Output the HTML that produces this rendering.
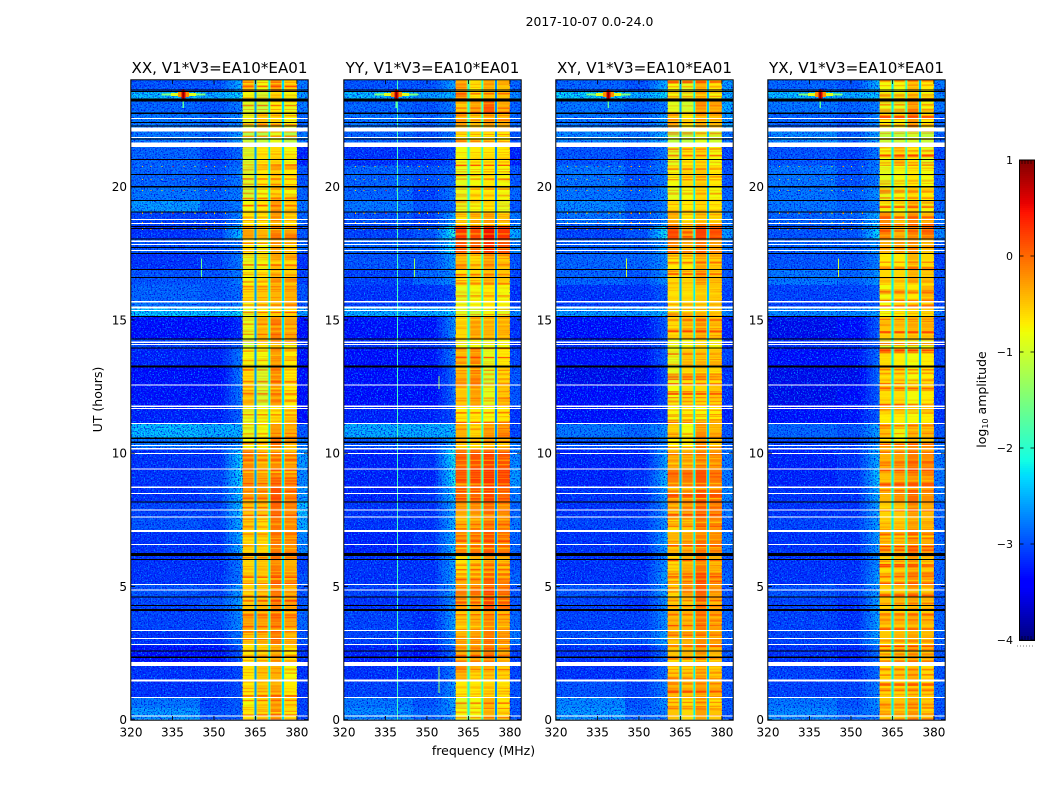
<!DOCTYPE html>
<html lang="en">
<head>
<meta charset="utf-8">
<title>2017-10-07 0.0-24.0 dynamic spectra</title>
<style>
html,body{margin:0;padding:0;background:#fff;}
svg{display:block;}
text{font-family:"DejaVu Sans","Liberation Sans",sans-serif;fill:#000;}
</style>
</head>
<body>
<svg id="chart" xmlns="http://www.w3.org/2000/svg" width="1050" height="800" viewBox="0 0 1050 800">
  <defs>
    <filter id="grain-light" x="0" y="0" width="1" height="1" color-interpolation-filters="sRGB">
      <feTurbulence type="fractalNoise" baseFrequency="0.7" numOctaves="2" seed="3"/>
      <feColorMatrix type="matrix" values="0 0 0 0 0  0 0 0 0 .58  0 0 0 0 1  3.6 0 0 0 -1.75"/>
    </filter>
    <filter id="grain-dark" x="0" y="0" width="1" height="1" color-interpolation-filters="sRGB">
      <feTurbulence type="fractalNoise" baseFrequency="0.7" numOctaves="2" seed="8"/>
      <feColorMatrix type="matrix" values="0 0 0 0 0  0 0 0 0 0  0 0 0 0 .88  3.6 0 0 0 -1.75"/>
    </filter>
    <filter id="stripe-red" x="0" y="0" width="1" height="1" color-interpolation-filters="sRGB">
      <feTurbulence type="fractalNoise" baseFrequency="0.004 0.42" numOctaves="2" seed="5"/>
      <feColorMatrix type="matrix" values="0 0 0 0 1  0 0 0 0 .22  0 0 0 0 0  3 0 0 0 -1.4"/>
    </filter>
    <filter id="stripe-yellow" x="0" y="0" width="1" height="1" color-interpolation-filters="sRGB">
      <feTurbulence type="fractalNoise" baseFrequency="0.004 0.42" numOctaves="2" seed="11"/>
      <feColorMatrix type="matrix" values="0 0 0 0 1  0 0 0 0 .95  0 0 0 0 0  2.5 0 0 0 -1.25"/>
    </filter>
  </defs>
  <rect x="0" y="0" width="1050" height="800" fill="#fff"/>
  <text x="589.5" y="26" font-size="12.4" text-anchor="middle">2017-10-07 0.0-24.0</text>
  <text transform="translate(102,399.5) rotate(-90)" font-size="12.5" text-anchor="middle">UT (hours)</text>
  <text x="483.5" y="755" font-size="12.5" text-anchor="middle">frequency (MHz)</text>
  <text transform="translate(986,399.5) rotate(-90)" font-size="12.5" text-anchor="middle">log<tspan font-size="8" dy="2">10</tspan><tspan dy="-2"> amplitude</tspan></text>
  <g id="panels"></g>
  <g id="colorbar"></g>
</svg>
<script>
// ---- Data ----
const panelTitles = ["XX, V1*V3=EA10*EA01", "YY, V1*V3=EA10*EA01", "XY, V1*V3=EA10*EA01", "YX, V1*V3=EA10*EA01"];
const xTickLabels = [320, 335, 350, 365, 380];
const yTickLabels = [0, 5, 10, 15, 20];
const colorbarTicks = [1, 0, -1, -2, -3, -4];

// Frequency (MHz) column edges of the value rows
const freqEdges = [320, 345, 353, 360.4, 365, 370, 375, 380, 384];
// Narrow spectral-window gaps (MHz)
const gapFreqs = [365, 370, 375];
// UT (hours) row edges, top to bottom
const utEdges = [24, 23.57, 23.27, 22.78, 22.22, 21.66, 20.80, 19.97, 19.48, 19.03, 18.55, 18.06, 17.50, 16.90, 16.30, 15.70, 15.47, 15.14, 14.31, 13.97, 13.26, 12.55, 11.76, 11.12, 10.56, 10.18, 9.36, 8.72, 8.16, 7.60, 7.07, 6.21, 5.53, 5.08, 4.59, 4.11, 3.36, 2.79, 2.16, 1.48, 0.84, 0.44, 0];

// log10 amplitude: one row per UT block, one value per frequency column
const xxValues = [
[-2.8,-2.8,-2.4,-0.4,-0.8,-0.2,-0.5,-2.6],[-2.2,-2.3,-2.2,-0.8,-1.0,-0.6,-0.8,-2.4],[-2.7,-2.8,-2.7,-1.0,-1.1,-0.7,-0.9,-2.6],[-2.6,-2.7,-2.6,-0.9,-0.5,-0.6,-0.8,-2.7],
[-2.6,-2.7,-2.5,-1.2,-1.2,-0.9,-1.2,-2.6],[-2.7,-2.9,-2.8,-1.0,-0.7,-0.6,-0.8,-3.1],[-2.7,-2.8,-2.7,-1.0,-0.7,-0.5,-0.7,-2.8],[-2.6,-2.7,-2.7,-1.0,-0.8,-0.6,-0.8,-2.7],
[-2.4,-2.7,-2.7,-0.8,-0.7,-0.3,-0.6,-2.6],[-2.9,-2.9,-2.6,-0.7,-0.7,-0.3,-0.6,-2.7],[-3.0,-2.9,-2.3,-0.3,-0.4,-0.1,-0.2,-2.8],[-2.8,-2.8,-2.7,-0.7,-0.8,-0.4,-0.6,-2.7],
[-3.0,-2.9,-2.7,-0.9,-0.8,-0.5,-0.6,-3.0],[-2.8,-2.8,-2.7,-0.8,-0.7,-0.4,-0.5,-2.9],[-2.7,-2.8,-2.8,-0.6,-0.5,-0.4,-0.4,-2.8],[-2.6,-2.7,-2.7,-0.8,-0.6,-0.5,-0.4,-2.8],
[-2.15,-2.2,-2.2,-0.9,-0.7,-0.6,-0.6,-2.4],[-3.3,-3.3,-3.2,-0.9,-0.4,-0.1,-0.3,-3.3],[-2.9,-3.0,-2.9,-1.1,-0.7,-0.5,-0.8,-3.0],[-3.1,-3.1,-2.7,-0.8,-0.8,-0.3,-0.7,-3.2],
[-3.3,-3.3,-2.7,-0.6,-1.0,-0.2,-0.7,-3.3],[-3.2,-3.2,-2.7,-0.5,-1.0,-0.3,-0.7,-3.3],[-3.1,-3.1,-2.8,-0.9,-0.8,-0.7,-0.6,-3.3],[-2.2,-2.3,-2.4,-0.9,-0.8,-0.3,-0.4,-2.8],
[-2.6,-2.7,-2.6,-0.8,-0.7,-0.1,-0.5,-2.6],[-3.0,-3.0,-2.2,-0.2,-0.4,-0.2,-0.3,-2.4],[-3.0,-2.9,-2.2,-0.2,-0.3,0.0,-0.1,-2.5],[-3.0,-2.9,-2.3,-0.3,-0.3,0.1,-0.2,-2.4],
[-2.9,-2.9,-2.3,-0.5,-0.5,0.0,-0.2,-2.2],[-2.8,-2.9,-2.4,-0.5,-0.6,-0.1,-0.2,-2.3],[-3.0,-3.0,-2.4,-0.6,-0.6,-0.1,-0.2,-2.5],[-3.0,-3.0,-2.7,-0.6,-0.5,-0.1,-0.3,-2.9],
[-3.0,-3.0,-2.7,-0.5,-0.5,0.0,-0.2,-2.8],[-2.8,-2.9,-2.5,-0.6,-0.5,-0.1,-0.4,-2.8],[-2.9,-2.8,-2.5,-0.5,-0.4,-0.1,-0.3,-2.8],[-2.9,-2.9,-2.6,-0.3,-0.3,-0.1,-0.3,-2.7],
[-3.0,-3.0,-2.7,-0.5,-0.4,-0.1,-0.4,-2.8],[-3.2,-3.2,-2.9,-0.7,-0.6,-0.4,-0.7,-3.0],[-3.0,-3.0,-3.0,-0.7,-0.5,-0.4,-0.8,-3.0],[-3.0,-3.0,-3.0,-0.7,-0.5,-0.3,-0.7,-3.0],
[-2.6,-2.9,-2.9,-0.8,-0.6,-0.3,-0.6,-2.9],[-2.4,-2.8,-2.9,-0.7,-0.5,-0.2,-0.6,-2.9]];
const yyValues = [
[-2.8,-2.8,-2.5,-0.3,-0.7,-0.4,-0.5,-2.7],[-2.2,-2.4,-2.4,-0.2,-0.7,-0.5,-0.5,-2.5],[-2.7,-2.8,-2.7,-0.5,-0.3,0.1,-0.4,-2.7],[-2.6,-2.7,-2.7,-0.3,-0.5,-0.3,-0.4,-2.7],
[-2.7,-2.8,-2.7,-0.7,-0.7,-0.7,-0.7,-2.8],[-3.0,-3.0,-3.0,-0.8,-0.7,-0.7,-0.7,-3.1],[-2.7,-2.8,-2.8,-0.9,-0.8,-0.7,-0.8,-2.8],[-2.7,-2.9,-2.7,-0.9,-0.7,-0.7,-0.8,-2.7],
[-2.6,-2.8,-2.8,-0.9,-0.8,-0.7,-0.9,-2.8],[-2.8,-2.9,-2.5,-0.7,-0.5,-0.4,-0.6,-2.6],[-2.9,-2.8,-2.0,0.3,0.2,0.5,0.3,-2.3],[-2.7,-2.7,-2.2,0.1,0.0,0.3,0.1,-2.5],
[-2.8,-2.8,-2.5,-0.4,-0.6,-0.3,-0.5,-2.8],[-2.9,-2.7,-2.6,-0.7,-0.6,-0.4,-0.5,-2.9],[-3.0,-3.0,-3.0,-0.9,-0.8,-0.7,-0.8,-3.0],[-2.9,-2.9,-2.9,-0.9,-0.8,-0.7,-0.8,-2.9],
[-2.3,-2.3,-2.3,-0.9,-1.0,-0.8,-0.9,-2.5],[-3.2,-3.2,-2.6,-0.6,-0.3,-0.4,-0.4,-3.0],[-3.0,-3.0,-2.9,-0.9,-0.8,-0.9,-0.8,-3.0],[-3.3,-3.2,-2.7,-0.4,-0.2,-0.9,-0.7,-2.9],
[-3.3,-3.3,-2.8,-0.4,-0.2,-1.0,-0.6,-2.8],[-3.3,-3.3,-2.8,-0.5,-0.3,-0.9,-0.5,-2.8],[-3.1,-3.1,-3.0,-0.7,-0.7,-0.8,-0.7,-3.0],[-2.3,-2.3,-2.4,-0.4,-0.6,-0.3,-0.2,-2.9],
[-2.8,-2.8,-2.5,-0.5,-0.6,-0.4,-0.5,-2.6],[-3.1,-3.0,-2.1,0.0,0.1,0.2,0.1,-2.5],[-3.1,-3.1,-2.1,0.1,0.2,0.3,0.2,-2.4],[-3.1,-3.0,-2.3,0.0,0.0,0.2,0.0,-2.6],
[-3.0,-3.0,-2.5,-0.3,-0.2,0.0,-0.2,-2.7],[-3.0,-3.0,-2.4,-0.4,-0.3,-0.1,-0.2,-2.6],[-3.1,-3.0,-2.4,-0.2,-0.1,0.1,-0.1,-2.7],[-3.0,-3.0,-2.5,-0.6,-0.4,-0.2,-0.4,-2.8],
[-3.0,-3.0,-2.5,-0.4,-0.3,0.0,-0.2,-2.7],[-2.9,-2.9,-2.5,-0.1,0.0,0.2,0.0,-2.8],[-3.0,-3.0,-2.6,-0.2,-0.2,0.2,0.0,-2.8],[-2.9,-3.0,-2.5,-0.5,-0.4,-0.2,-0.4,-2.7],
[-2.9,-3.0,-2.6,-0.4,-0.3,-0.1,-0.3,-2.6],[-3.1,-3.2,-2.8,-0.4,-0.3,-0.1,-0.4,-2.9],[-3.0,-3.0,-2.7,-0.4,-0.6,-0.5,-0.6,-2.9],[-2.9,-2.9,-2.6,-0.7,-0.7,-0.6,-0.7,-2.8],
[-2.6,-2.8,-2.5,-0.9,-0.8,-0.4,-0.7,-2.8],[-2.5,-2.7,-2.6,-0.8,-0.8,-0.4,-0.6,-2.8]];
const xyValues = [
[-2.7,-2.8,-2.4,-0.8,-0.9,-0.4,-0.7,-2.4],[-2.1,-2.3,-2.2,-0.8,-0.9,-0.5,-0.8,-2.3],[-2.6,-2.7,-2.7,-0.9,-1.0,-0.2,-0.3,-2.3],[-2.6,-2.7,-2.5,-0.3,-0.7,-0.3,-0.4,-2.4],
[-2.5,-2.6,-2.4,-1.1,-1.1,-0.9,-1.0,-2.6],[-2.8,-2.9,-2.7,-0.9,-0.7,-0.6,-0.8,-2.9],[-2.6,-2.8,-2.7,-0.8,-0.6,-0.5,-0.7,-2.8],[-2.6,-2.7,-2.6,-0.9,-0.8,-0.6,-0.8,-2.7],
[-2.5,-2.7,-2.7,-0.6,-0.7,-0.6,-0.7,-2.6],[-2.6,-2.8,-2.6,-0.4,-0.7,-0.5,-0.6,-2.6],[-2.9,-2.8,-2.1,0.1,-0.3,0.2,0.1,-2.4],[-2.7,-2.7,-2.5,-0.2,-0.4,-0.1,-0.3,-2.6],
[-2.7,-2.7,-2.6,-0.7,-0.7,-0.3,-0.5,-2.8],[-2.7,-2.8,-2.6,-0.6,-0.6,-0.3,-0.5,-2.8],[-3.0,-3.0,-2.9,-0.6,-0.6,-0.5,-0.5,-2.9],[-2.9,-2.9,-2.9,-0.7,-0.6,-0.6,-0.5,-2.9],
[-2.4,-2.4,-2.4,-0.8,-0.7,-0.6,-0.6,-2.5],[-3.3,-3.2,-2.9,-0.6,-0.4,-0.2,-0.4,-3.1],[-3.0,-3.0,-2.9,-0.9,-0.8,-0.6,-0.8,-3.0],[-3.2,-3.2,-2.9,-0.9,-0.5,-0.5,-0.5,-2.9],
[-3.4,-3.4,-3.0,-0.9,-0.6,-0.5,-0.6,-3.0],[-3.3,-3.3,-3.0,-0.8,-0.6,-0.6,-0.5,-3.0],[-3.2,-3.2,-3.1,-0.8,-0.7,-0.8,-0.7,-3.1],[-2.6,-2.7,-2.6,-0.5,-0.8,-0.2,-0.4,-2.8],
[-2.8,-2.8,-2.7,-0.7,-0.7,-0.2,-0.5,-2.7],[-3.1,-3.1,-2.5,-0.3,-0.3,-0.1,-0.2,-2.6],[-3.1,-3.0,-2.4,-0.1,-0.1,0.1,-0.1,-2.6],[-3.0,-3.0,-2.5,-0.2,-0.2,0.1,0.0,-2.5],
[-3.0,-3.0,-2.6,-0.5,-0.3,0.0,-0.1,-2.6],[-2.9,-2.9,-2.6,-0.6,-0.5,-0.1,-0.2,-2.7],[-3.0,-3.0,-2.5,-0.4,-0.3,-0.1,-0.2,-2.6],[-3.0,-3.0,-2.6,-0.6,-0.4,-0.1,-0.4,-2.8],
[-3.0,-3.0,-2.5,-0.5,-0.3,0.1,-0.2,-2.7],[-2.8,-2.9,-2.5,-0.6,-0.3,0.0,-0.3,-2.8],[-2.9,-3.0,-2.6,-0.4,-0.4,0.0,-0.3,-2.8],[-2.9,-2.9,-2.6,-0.4,-0.4,-0.1,-0.3,-2.7],
[-2.8,-2.8,-2.5,-0.5,-0.4,-0.2,-0.3,-2.7],[-3.0,-3.1,-2.8,-0.5,-0.4,-0.2,-0.4,-2.8],[-3.0,-3.0,-2.8,-0.5,-0.5,-0.3,-0.5,-2.8],[-2.8,-2.9,-2.7,-0.4,-0.5,-0.3,-0.4,-2.8],
[-2.5,-2.8,-2.6,-0.5,-0.6,-0.3,-0.6,-2.8],[-2.4,-2.7,-2.7,-0.5,-0.6,-0.3,-0.5,-2.8]];
const yxValues = [
[-2.7,-2.8,-2.4,-0.8,-0.8,-0.4,-0.7,-2.6],[-2.2,-2.3,-2.3,-0.8,-0.8,-0.6,-0.8,-2.5],[-2.6,-2.7,-2.7,-0.9,-0.9,-0.3,-0.8,-2.6],[-2.7,-2.8,-2.6,-0.7,-0.7,-0.2,-0.7,-2.7],
[-2.5,-2.7,-2.5,-1.1,-1.1,-1.0,-1.1,-2.7],[-2.8,-2.9,-2.7,-0.8,-0.5,-0.7,-0.9,-2.9],[-2.6,-2.8,-2.7,-0.9,-0.8,-0.7,-0.8,-2.8],[-2.6,-2.7,-2.6,-0.9,-0.8,-0.6,-0.7,-2.7],
[-2.6,-2.7,-2.7,-0.8,-0.8,-0.5,-0.8,-2.7],[-2.7,-2.7,-2.4,-0.2,-0.5,-0.2,-0.4,-2.6],[-2.8,-2.8,-2.2,-0.1,-0.4,-0.1,0.0,-2.5],[-2.7,-2.7,-2.6,-0.4,-0.3,-0.2,-0.5,-2.7],
[-2.8,-2.8,-2.7,-0.7,-0.7,-0.4,-0.6,-2.9],[-2.6,-2.7,-2.6,-0.6,-0.6,-0.4,-0.5,-2.8],[-2.9,-2.9,-2.9,-0.8,-0.6,-0.7,-0.4,-2.9],[-2.9,-2.9,-2.9,-0.8,-0.6,-0.6,-0.6,-2.9],
[-2.5,-2.5,-2.5,-0.8,-0.7,-0.6,-0.6,-2.6],[-3.4,-3.3,-2.9,-0.5,-0.5,-0.4,-0.4,-2.9],[-3.0,-3.0,-2.9,-1.0,-0.8,-0.9,-0.9,-3.0],[-3.3,-3.2,-2.8,-0.6,-0.7,-0.8,-0.7,-2.9],
[-3.4,-3.4,-2.8,-0.6,-0.6,-0.8,-0.7,-2.9],[-3.4,-3.3,-2.9,-0.6,-0.6,-0.8,-0.7,-3.0],[-3.2,-3.2,-2.9,-0.7,-0.7,-0.8,-0.7,-3.0],[-2.7,-2.8,-2.5,-0.5,-0.8,-0.4,-0.4,-2.8],
[-2.9,-2.9,-2.6,-0.7,-0.7,-0.4,-0.5,-2.7],[-3.1,-3.0,-2.4,-0.4,-0.3,-0.1,-0.2,-2.6],[-3.1,-3.0,-2.3,-0.3,-0.1,0.0,-0.1,-2.6],[-3.0,-3.0,-2.4,-0.4,-0.2,0.0,-0.2,-2.6],
[-3.0,-3.0,-2.5,-0.5,-0.4,-0.1,-0.3,-2.7],[-2.9,-2.9,-2.5,-0.5,-0.5,-0.3,-0.4,-2.7],[-3.0,-3.0,-2.5,-0.4,-0.4,-0.1,-0.3,-2.7],[-3.0,-3.0,-2.6,-0.6,-0.5,-0.3,-0.5,-2.7],
[-3.0,-3.0,-2.5,-0.5,-0.4,-0.2,-0.3,-2.7],[-2.8,-2.9,-2.5,-0.6,-0.5,-0.3,-0.5,-2.8],[-2.9,-3.0,-2.5,-0.5,-0.4,-0.3,-0.4,-2.8],[-2.9,-3.0,-2.5,-0.4,-0.4,-0.3,-0.4,-2.7],
[-2.9,-2.9,-2.5,-0.5,-0.4,-0.3,-0.4,-2.7],[-3.0,-3.1,-2.8,-0.6,-0.5,-0.4,-0.5,-2.8],[-2.9,-3.0,-2.8,-0.6,-0.5,-0.4,-0.6,-2.8],[-2.9,-2.9,-2.7,-0.5,-0.5,-0.4,-0.5,-2.7],
[-2.6,-2.8,-2.6,-0.5,-0.5,-0.3,-0.5,-2.8],[-2.5,-2.7,-2.7,-0.5,-0.5,-0.3,-0.5,-2.8]];

// log10 amplitude inside the three spectral-window gaps, per panel
const xxGapValues = [-2.6, -2.2, -2.3];
const yyGapValues = [-2.0, -2.0, -2.7];
const xyGapValues = [-2.5, -2.2, -2.4];
const yxGapValues = [-2.2, -1.9, -2.4];
// log10 amplitude of the soft fringe beside each gap
const gapFringeLevel = -1.2;

// Flagged time ranges in UT hours [from, to]
const whiteFlags = [[22.54,22.58],[22.07,22.22],[21.83,21.87],[21.49,21.66],[18.75,18.79],[18.60,18.64],[17.93,17.97],[17.82,17.85],[17.59,17.63],[15.66,15.70],[15.43,15.51],[15.34,15.38],[14.14,14.18],[14.05,14.10],[12.53,12.58],[11.74,11.78],[11.67,11.70],[11.10,11.14],[10.26,10.30],[10.13,10.20],[9.98,10.01],[9.40,9.43],[8.70,8.74],[8.48,8.51],[7.84,7.88],[7.59,7.62],[7.05,7.11],[6.56,6.60],[5.06,5.10],[4.84,4.88],[3.33,3.36],[3.03,3.06],[2.80,2.84],[2.01,2.16],[1.43,1.50],[0.81,0.85],[0.12,0.16]];
const blackFlags = [[23.61,23.65],[23.55,23.59],[23.20,23.31],[22.73,22.79],[22.39,22.43],[22.26,22.30],[21.77,21.81],[21.00,21.04],[20.44,20.48],[19.96,20.03],[19.47,19.50],[19.02,19.06],[18.50,18.53],[18.41,18.44],[18.03,18.06],[17.71,17.74],[17.47,17.51],[16.87,16.91],[16.58,16.61],[15.12,15.15],[14.27,14.30],[13.94,13.97],[13.21,13.28],[10.53,10.58],[10.38,10.43],[8.15,8.18],[6.14,6.26],[5.99,6.02],[4.59,4.62],[4.27,4.30],[4.07,4.16],[2.57,2.60],[2.31,2.37]];

// Strong interferer near 339 MHz: [freqFrom, freqTo, utFrom, utTo, level]
const spikeParts = [[331,347,23.42,23.50,-1.5],[334.5,343.5,23.40,23.52,-0.9],[337,341,23.36,23.56,-0.2],[338.3,339.7,23.28,23.62,0.6],[338.7,339.2,23.25,23.66,0.95],[338.7,339.2,22.95,23.2,-1.7]];
// Narrow vertical interference: [panel, freq, utFrom, utTo, level]
const rfiLines = [[1,339.2,0,24,-1.85],[1,345.4,16.6,17.3,-1.3],[1,354.2,1.0,2.0,-1.3],[1,354.2,12.4,12.9,-1.3],[0,345.3,16.55,17.3,-1.6],[2,345.4,16.6,17.3,-1.0],[3,345.4,16.6,17.3,-1.0]];
// Periodic comb interference: frequencies and UT rows
const combFreqs = [324,327,331,335,339,343,347,350,354];
const combUts = [20.76,20.27,19.86,19.0,18.66,18.4];
const combLevels = [-0.5,-0.3,-0.7,0.3,-0.4,-0.8,-0.2,-0.6,-0.4];

// ---- Axes ----
const panelLefts = [131, 344, 556, 768];
const panelValues = [xxValues, yyValues, xyValues, yxValues];
const panelGaps = [xxGapValues, yyGapValues, xyGapValues, yxGapValues];
const panelNames = ["xx", "yy", "xy", "yx"];
const panelWidth = 177, topY = 80, bottomY = 720;
const offBandShift = -0.15;
const transitionSteps = 6;
const NS = "http://www.w3.org/2000/svg";

function xScale(panel, mhz) { return panelLefts[panel] + (mhz - 320) * panelWidth / 64; }
function yScale(ut) { return 719.7 - ut * (639.7 / 24); }
function cbScale(level) { return 160 + (1 - level) * 96; }

function ramp(x, pts) {
  for (let i = 1; i < pts.length; i++) {
    if (x <= pts[i][0]) {
      const a = pts[i - 1], b = pts[i];
      return a[1] + (b[1] - a[1]) * (x - a[0]) / (b[0] - a[0]);
    }
  }
  return pts[pts.length - 1][1];
}
function jet(level) {
  const t = Math.max(0, Math.min(1, (level + 4) / 5));
  const r = ramp(t, [[0,0],[0.35,0],[0.66,1],[0.89,1],[1,0.5]]);
  const g = ramp(t, [[0,0],[0.125,0],[0.375,1],[0.64,1],[0.91,0],[1,0]]);
  const b = ramp(t, [[0,0.5],[0.11,1],[0.34,1],[0.65,0],[1,0]]);
  return "rgb(" + Math.round(r * 255) + "," + Math.round(g * 255) + "," + Math.round(b * 255) + ")";
}
function make(tag, attrs, parent) {
  const n = document.createElementNS(NS, tag);
  for (const k in attrs) n.setAttribute(k, attrs[k]);
  parent.appendChild(n);
  return n;
}
function band(panel, f0, f1, u0, u1, fill, parent) {
  const x0 = xScale(panel, f0), x1 = xScale(panel, f1), y0 = yScale(u1), y1 = yScale(u0);
  return make("rect", { x: x0, y: y0, width: Math.max(x1 - x0, 1), height: Math.max(y1 - y0, 1), fill: fill, "shape-rendering": "crispEdges" }, parent);
}

// ---- Panels ----
const panelsRoot = document.getElementById("panels");
panelTitles.forEach(function (title, p) {
  const g = make("g", {}, panelsRoot);
  
  

  // heatmap cells
  const values = panelValues[p];
  values.forEach(function (row, r) {
    row.forEach(function (v, c) {
      if (c === 2) {
        // the transition column fades into the band across its width
        const startLevel = row[1] + offBandShift;
        for (let k = 0; k < transitionSteps; k++) {
          const f0 = freqEdges[2] + (freqEdges[3] - freqEdges[2]) * k / transitionSteps;
          const f1 = freqEdges[2] + (freqEdges[3] - freqEdges[2]) * (k + 1) / transitionSteps;
          const lvl = startLevel + (v - startLevel) * (k + 1) / transitionSteps;
          const sub = band(p, f0, f1, utEdges[r + 1], utEdges[r], jet(lvl), g);
          
          
        }
        return;
      }
      const shown = (c < 2 || c === 7) ? v + offBandShift : v;
      const cell = band(p, freqEdges[c], freqEdges[c + 1], utEdges[r + 1], utEdges[r], jet(shown), g);
      
      
    });
  });

  // texture over the low-level and high-level regions (appearance only)
  [[320, 360.4, "grain-light"], [320, 360.4, "grain-dark"], [380, 384, "grain-light"], [380, 384, "grain-dark"], [360.4, 380, "stripe-red"], [360.4, 380, "stripe-yellow"]].forEach(function (t) {
    const tex = make("rect", { x: xScale(p, t[0]), y: topY, width: xScale(p, t[1]) - xScale(p, t[0]), height: bottomY - topY, filter: "url(#" + t[2] + ")" }, g);
    
    
  });

  // spectral window gaps with a soft fringe
  gapFreqs.forEach(function (f, i) {
    const fringe = band(p, f - 0.7, f + 0.7, 0, 24, jet(gapFringeLevel), g);
    
    
    fringe.setAttribute('opacity', '0.55');
    const gap = band(p, f - 0.35, f + 0.3, 0, 24, jet(panelGaps[p][i]), g);
    
    
  });

  // comb dots
  combUts.forEach(function (u) {
    combFreqs.forEach(function (f, i) {
      const dot = band(p, f, f + 0.4, u - 0.02, u + 0.02, jet(combLevels[i]), g);
      
      
    });
  });

  // vertical interference
  rfiLines.filter(function (l) { return l[0] === p; }).forEach(function (l) {
    const line = band(p, l[1], l[1] + 0.36, l[2], l[3], jet(l[4]), g);
    
    
  });

  // strong spike
  spikeParts.forEach(function (s) {
    const part = band(p, s[0], s[1], s[2], s[3], jet(s[4]), g);
    
    
  });

  // flags
  whiteFlags.forEach(function (f) {
    const flag = band(p, 320, 384, f[0], f[1], "#ffffff", g);
    
    
  });
  blackFlags.forEach(function (f) {
    const flag = band(p, 320, 384, f[0], f[1], "#000000", g);
    
    
  });

  // frame
  const left = xScale(p, 320), right = xScale(p, 384);
  const frame = make("rect", { x: left - 0.2, y: topY - 0.2, width: right - left + 0.4, height: bottomY - topY + 0.4, fill: "none", stroke: "#000", "stroke-width": 1 }, g);
  
  

  // x ticks
  xTickLabels.forEach(function (t) {
    const x = xScale(p, t);
    const t1 = make("line", { x1: x, x2: x, y1: bottomY, y2: bottomY - 4, stroke: "#000", "stroke-width": 0.8 }, g);
    
    
    const t2 = make("line", { x1: x, x2: x, y1: topY, y2: topY + 4, stroke: "#000", "stroke-width": 0.8 }, g);
    
    
    const lab = make("text", { x: x, y: 736.5, "font-size": 12, "text-anchor": "middle" }, g);
    lab.textContent = t;
    
    
  });

  // y ticks
  yTickLabels.forEach(function (t) {
    const y = yScale(t);
    const t1 = make("line", { x1: left, x2: left + 4, y1: y, y2: y, stroke: "#000", "stroke-width": 0.8 }, g);
    
    
    const t2 = make("line", { x1: right, x2: right - 4, y1: y, y2: y, stroke: "#000", "stroke-width": 0.8 }, g);
    
    
    const lab = make("text", { x: left - 4, y: y + 4.4, "font-size": 12, "text-anchor": "end" }, g);
    lab.textContent = t;
    
    
  });

  // title
  const ttl = make("text", { x: (left + right) / 2, y: 73, "font-size": 15.1, "text-anchor": "middle" }, g);
  ttl.textContent = title;
  
  
});

// ---- Colorbar ----
const cbRoot = document.getElementById("colorbar");
const cbLeft = 1019.5, cbRight = 1034.5;
for (let i = 0; i < 240; i++) {
  const level = 1 - (i + 0.5) * 5 / 240;
  const slice = make("rect", { x: cbLeft, y: cbScale(1 - i * 5 / 240), width: cbRight - cbLeft, height: 2.2, fill: jet(level), "shape-rendering": "crispEdges" }, cbRoot);
  
  
}
const cbFrame = make("rect", { x: cbLeft, y: 160, width: cbRight - cbLeft, height: 480.5, fill: "none", stroke: "#000", "stroke-width": 1 }, cbRoot);


colorbarTicks.forEach(function (t) {
  const y = cbScale(t);
  const a = make("line", { x1: cbLeft, x2: cbLeft + 4, y1: y, y2: y, stroke: "#000", "stroke-width": 0.8 }, cbRoot);
  
  
  const b = make("line", { x1: cbRight, x2: cbRight - 4, y1: y, y2: y, stroke: "#000", "stroke-width": 0.8 }, cbRoot);
  
  
  const lab = make("text", { x: 1013, y: y + 3.8, "font-size": 11, "text-anchor": "end" }, cbRoot);
  lab.textContent = t < 0 ? "\u2212" + Math.abs(t) : String(t);
  
  
});
for (let x = 1022; x < 1034; x += 3) {
  const m1 = make("line", { x1: x, x2: x, y1: 160, y2: 164, stroke: "#000", "stroke-width": 0.6 }, cbRoot);
  
  
  const m2 = make("line", { x1: x, x2: x, y1: 640, y2: 636, stroke: "#000", "stroke-width": 0.6 }, cbRoot);
  
  
}
const cbDots = make("line", { x1: 1017, x2: 1035, y1: 646, y2: 646, stroke: "#777", "stroke-width": 1, "stroke-dasharray": "1 2" }, cbRoot);


</script>
</body>
</html>
